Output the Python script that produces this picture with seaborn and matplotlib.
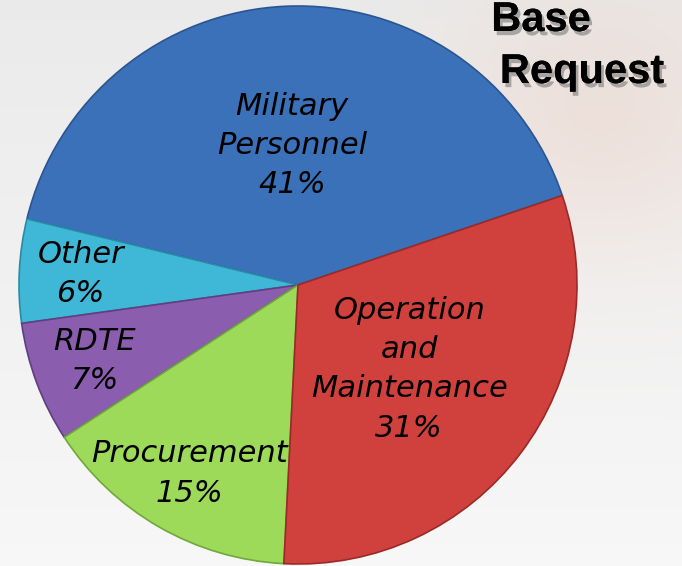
import numpy as np
import seaborn as sns
import matplotlib.pyplot as plt
import matplotlib.patheffects as pe

# budget shares, counter-clockwise from the military / O&M boundary
categories = ["Military\nPersonnel", "Other", "RDTE", "Procurement", "Operation\nand\nMaintenance"]
shares = [41, 6, 7, 15, 31]
colors = ["#3b71b9", "#3fb8d8", "#8a5daf", "#9dda5a", "#d0413e"]
edges = ["#2a5590", "#2a8aa5", "#5f3f80", "#6fa83a", "#9a2a28"]
title_lines = ["Base", "Request"]


def main():
    sns.set_theme(style="white")
    plt.rcParams["font.family"] = ["DejaVu Sans"]

    fig = plt.figure(figsize=(6.82, 5.66), dpi=100)
    ax = fig.add_axes([0, 0, 1, 1])

    # soft background, light gray with a warm blur at the top right
    yy, xx = np.mgrid[0:566, 0:682]
    base = 0.92 + 0.05 * (yy / 566)
    warm = np.exp(-(((xx - 600) / 160) ** 2 + ((yy - 120) / 140) ** 2))
    bg = np.dstack([base, base - 0.05 * warm, base - 0.07 * warm])
    ax.imshow(np.clip(bg, 0, 1), extent=(0, 682, 0, 566), origin="upper", zorder=0)

    labels = [f"{c}\n{s}%" for c, s in zip(categories, shares)]
    wedges, texts = ax.pie(
        shares, labels=labels, colors=colors, startangle=18.7, counterclock=True,
        center=(298, 281), radius=279, labeldistance=0.78,
        wedgeprops=dict(linewidth=1.2),
        textprops=dict(fontsize=22, style="italic", color="black",
                       ha="center", va="center", linespacing=1.45),
    )
    for w, ec in zip(wedges, edges):
        w.set_edgecolor(ec)
        w.set_zorder(2)
    # large slices carry their labels nearer the centre
    for i in (0, 4):
        x, y = texts[i].get_position()
        f = 0.50 / 0.78
        texts[i].set_position((298 + (x - 298) * f, 281 + (y - 281) * f))
    for t in texts:
        t.set_horizontalalignment("center")
        t.set_zorder(3)

    shadow = [pe.withSimplePatchShadow(offset=(2, -3), shadow_rgbFace="#666666", alpha=0.5), pe.Normal()]
    ax.text(541, 546, title_lines[0], fontsize=30, fontweight="bold", family="Liberation Sans",
            ha="center", va="center", color="black", path_effects=shadow, zorder=4)
    ax.text(582, 494, title_lines[1], fontsize=30, fontweight="bold", family="Liberation Sans",
            ha="center", va="center", color="black", path_effects=shadow, zorder=4)

    ax.set_xlim(0, 682)
    ax.set_ylim(0, 566)
    ax.set_aspect("auto")
    ax.axis("off")
    fig.savefig("out.png", dpi=100)


if __name__ == "__main__":
    main()
